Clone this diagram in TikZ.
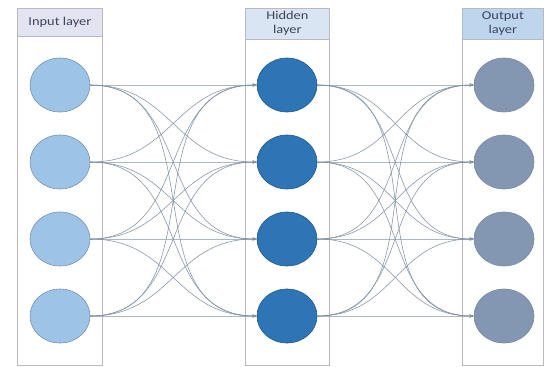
\documentclass[tikz,border=0pt]{standalone}
\usepackage{fontspec}
\setmainfont{Carlito}
\definecolor{InBlue}{RGB}{157, 195, 230}
\definecolor{HidBlue}{RGB}{46, 117, 182}
\definecolor{OutGray}{RGB}{132, 151, 178}
\definecolor{InHead}{RGB}{226, 228, 242}
\definecolor{HidHead}{RGB}{218, 229, 243}
\definecolor{OutHead}{RGB}{189, 214, 238}
\definecolor{ColLine}{RGB}{185, 185, 195}
\definecolor{EdgeGray}{RGB}{130, 146, 164}
\definecolor{HeadText}{RGB}{60, 68, 88}
\usetikzlibrary{arrows.meta, positioning, shapes.geometric}
\newcommand{\hdtext}[1]{\scalebox{1.2}[1]{\begin{tabular}{@{}c@{}}#1\end{tabular}}}
\tikzset{
  colbox/.style={rectangle, draw=ColLine, line width=0.8pt, fill=white,
                 anchor=north west, inner sep=0pt},
  hdbox/.style={rectangle, draw=ColLine, line width=0.8pt, fill=#1,
                anchor=north west, inner sep=0pt, text=HeadText,
                font=\fontsize{12}{13.5}\selectfont, align=center},
  neuron/.style={ellipse, draw=#1!75!black, fill=#1, line width=0.6pt,
                 minimum width=60pt, minimum height=54pt, inner sep=0pt},
  arr/.style={-{Stealth[length=4pt, width=3pt]}, line width=0.55pt, color=EdgeGray},
}
\begin{document}
\begin{tikzpicture}[x=1pt, y=-1pt]
  \useasboundingbox (0,0) rectangle (552,367);

  % columns
  \node[colbox, minimum width=85pt, minimum height=357pt] (incol) at (17,8) {};
  \node[colbox, minimum width=84pt, minimum height=357pt] (hidcol) at (245,8) {};
  \node[colbox, minimum width=81pt, minimum height=357pt] (outcol) at (462,8) {};

  % headers
  \node[hdbox=InHead, minimum width=85pt, minimum height=28pt]
       (inhead) at (incol.north west) {\hdtext{Input layer}};
  \node[hdbox=HidHead, minimum width=84pt, minimum height=31pt]
       (hidhead) at (hidcol.north west) {\hdtext{Hidden\\layer}};
  \node[hdbox=OutHead, minimum width=81pt, minimum height=31pt]
       (outhead) at (outcol.north west) {\hdtext{Output\\layer}};

  % neurons
  \foreach \k/\y in {1/85, 2/162, 3/239, 4/316} {
    \node[neuron=InBlue]  (i\k) at (60,\y) {};
    \node[neuron=HidBlue] (h\k) at (287,\y) {};
    \node[neuron=OutGray, draw=OutGray!90!black] (o\k) at (504,\y) {};
  }

  % connections
  \foreach \a in {1,...,4} {
    \foreach \b in {1,...,4} {
      \draw[arr] (i\a.east) to[out=0, in=180, looseness=1.15] (h\b.west);
      \draw[arr] (h\a.east) to[out=0, in=180, looseness=1.15] (o\b.west);
    }
  }
\end{tikzpicture}
\end{document}
